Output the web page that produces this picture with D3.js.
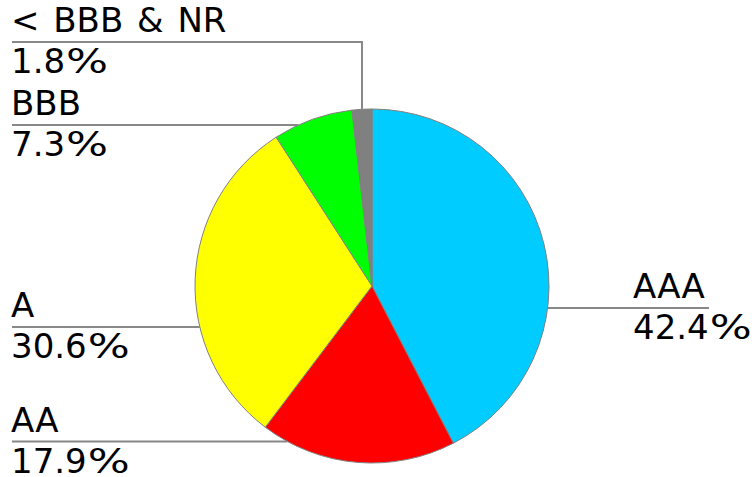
<!DOCTYPE html>
<html>
<head>
<meta charset="utf-8">
<script src="https://cdn.jsdelivr.net/npm/d3@7"></script>
<style>
  body { margin: 0; background: #fff; }
  text { font-family: "DejaVu Sans", Verdana, sans-serif; font-size: 34px; fill: #000; }
</style>
</head>
<body>
<div id="chart"></div>
<script>
// rating categories and their share of the portfolio (%)
var categories = ["AAA", "AA", "A", "BBB", "< BBB & NR"];
var shares = [42.4, 17.9, 30.6, 7.3, 1.8];
var colors = ["#00ccff", "#ff0000", "#ffff00", "#00ff00", "#808080"];

// where each callout line sits (layout only)
var calloutY = [308, 441.5, 327, 125, 42];
var calloutSide = ["right", "left", "left", "left", "left"];

var width = 752, height = 477;
var cx = 372, cy = 286, radius = 177;

var svg = d3.select("#chart").append("svg")
  .attr("width", width)
  .attr("height", height);

var data = categories.map(function(c, i) {
  return {name: c, value: shares[i], color: colors[i], ly: calloutY[i], side: calloutSide[i]};
});

var pie = d3.pie().sort(null).value(function(d) { return d.value; });
var arc = d3.arc().innerRadius(0).outerRadius(radius);
var arcs = pie(data);

var pieGroup = svg.append("g")
  .attr("transform", "translate(" + cx + "," + cy + ")");

pieGroup.selectAll("path")
  .data(arcs)
  .enter().append("path")
  .attr("d", arc)
  .attr("fill", function(d) { return d.data.color; })
  .attr("stroke", "#808080")
  .attr("stroke-width", 1);

// callouts
var callouts = svg.append("g");
arcs.forEach(function(a, i) {
  var d = a.data;
  var dy = d.ly - cy;
  var lineColor = "#888";
  if (Math.abs(dy) < radius) {
    var dx = Math.sqrt(radius * radius - dy * dy);
    var x1 = d.side == "right" ? cx + dx : 12;
    var x2 = d.side == "right" ? 709 : cx - dx;
    callouts.append("line")
      .attr("x1", x1).attr("x2", x2)
      .attr("y1", d.ly).attr("y2", d.ly)
      .attr("stroke", lineColor).attr("stroke-width", 2);
  } else {
    // small slice at the top: elbow line down to the slice
    var mid = (a.startAngle + a.endAngle) / 2;
    var px = cx + radius * Math.sin(mid);
    var py = cy - Math.sqrt(radius * radius - (px - cx) * (px - cx));
    callouts.append("polyline")
      .attr("points", [[12, d.ly], [px, d.ly], [px, py]].map(function(p) { return p.join(","); }).join(" "))
      .attr("fill", "none")
      .attr("stroke", lineColor).attr("stroke-width", 2);
  }
  var tx = d.side == "right" ? 633 : 11;
  callouts.append("text")
    .attr("x", tx).attr("y", d.ly - 10)
    .style("word-spacing", "3px")
    .text(d.name);
  var num = callouts.append("text")
    .attr("x", tx).attr("y", d.ly + 31)
    .text(d3.format(".1f")(d.value));
  // the original face has a wider percent sign, stretch it a little
  var px2 = tx + num.node().getComputedTextLength() + 1;
  callouts.append("text")
    .attr("transform", "translate(" + px2 + "," + (d.ly + 31) + ") scale(1.3,1)")
    .text("%");
});
</script>
</body>
</html>
